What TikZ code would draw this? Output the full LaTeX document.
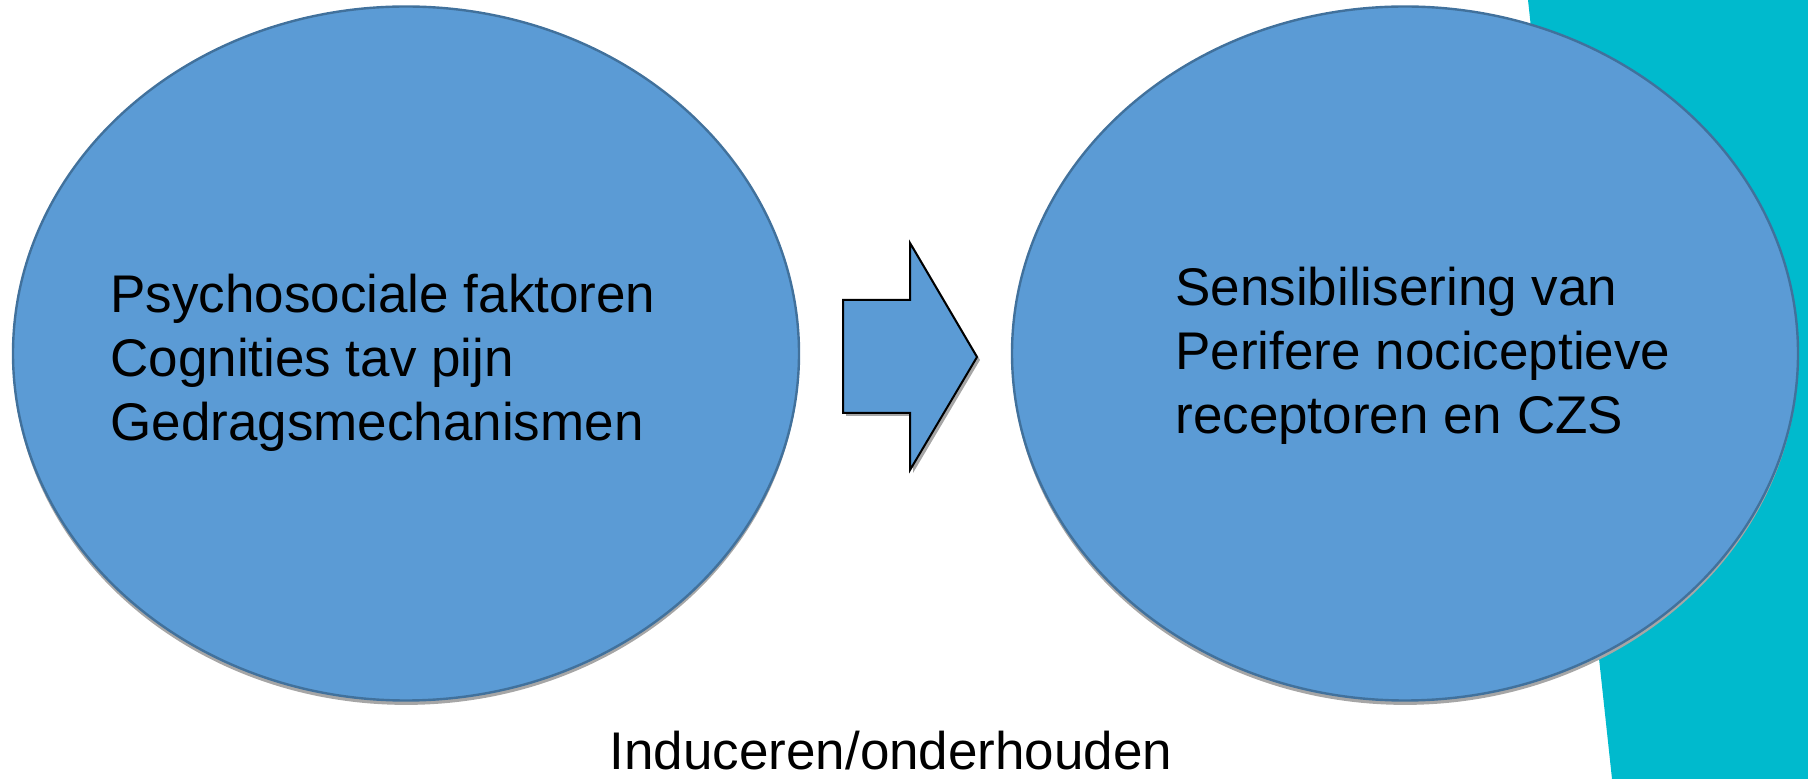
\documentclass[tikz,border=0pt]{standalone}
\usepackage{fontspec}
\setmainfont{Liberation Sans}
\definecolor{blobfill}{RGB}{91,155,213}
\definecolor{blobline}{RGB}{65,113,156}
\definecolor{sidecyan}{RGB}{0,186,205}
\definecolor{shadowgray}{RGB}{166,166,166}
\usepackage{tikz}
\usetikzlibrary{shapes.geometric, positioning}

\tikzset{
  blob/.style={ellipse, draw=blobline, line width=1.2pt, fill=blobfill,
    minimum width=393pt, minimum height=347pt, inner sep=0pt,
    preaction={fill=shadowgray, transform canvas={yshift=-2.2pt}}},
  blobtext/.style={anchor=north west, inner sep=0pt, align=left,
    font=\fontsize{26.5pt}{32pt}\selectfont},
  blockarrow/.style={draw=black, line width=1pt, fill=blobfill, line join=miter}
}

\begin{document}
\begin{tikzpicture}[x=0.5pt, y=-0.5pt]
\useasboundingbox (0,0) rectangle (1808,779);
\fill[sidecyan] (1528,0) -- (1808,0) -- (1808,779) -- (1612,779) -- cycle;

\node[blob] (psy) at (406,353.5) {};
\node[blob] (sens) at (1405,353.5) {};

\fill[shadowgray] (846,303) -- (913,303) -- (913,246) -- (980,360) -- (913,473)
  -- (913,416) -- (846,416) -- cycle;
\draw[blockarrow] (843,300) -- (910,300) -- (910,243) -- (977,357) -- (910,470)
  -- (910,413) -- (843,413) -- cycle;

\node[blobtext] (psytxt) at (110,274) {Psychosociale faktoren\\Cognities tav pijn\\Gedragsmechanismen};
\node[blobtext] (senstxt) at (1175,267) {Sensibilisering van\\Perifere nociceptieve\\receptoren en CZS};
\node[anchor=base, inner sep=0pt, font=\fontsize{26.5pt}{32pt}\selectfont] (induc) at (891,769) {Induceren/onderhouden};
\end{tikzpicture}
\end{document}
